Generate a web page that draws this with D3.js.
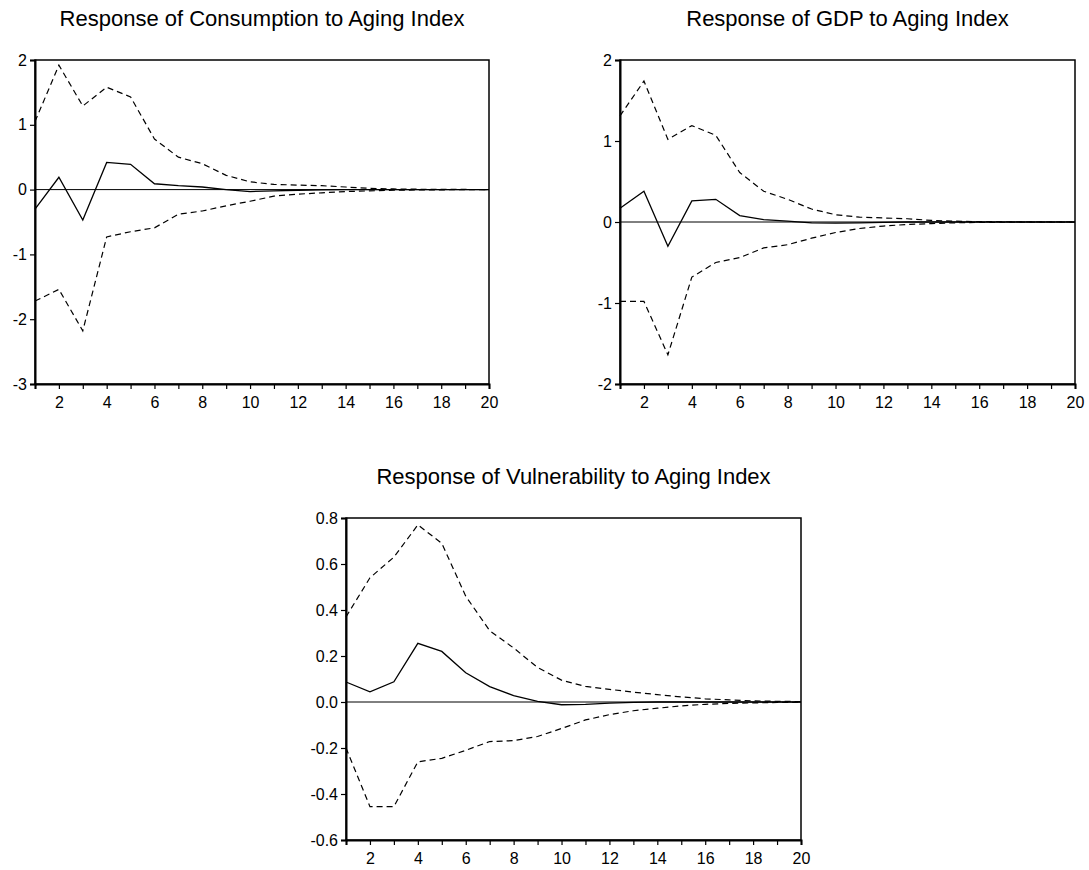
<!DOCTYPE html>
<html>
<head>
<meta charset="utf-8">
<script src="https://cdn.jsdelivr.net/npm/d3@7"></script>
<style>
  body { margin: 0; background: #fff; }
  svg { display: block; font-family: Arial, "Liberation Sans", sans-serif; }
</style>
</head>
<body>
<svg id="chart" width="1089" height="870"></svg>
<script>
// impulse response periods
var periods = [1, 2, 3, 4, 5, 6, 7, 8, 9, 10, 11, 12, 13, 14, 15, 16, 17, 18, 19, 20];
var xTickLabels = [2, 4, 6, 8, 10, 12, 14, 16, 18, 20];

// Response of Consumption to Aging Index
var consResp  = [-0.30, 0.19, -0.47, 0.42, 0.39, 0.09, 0.06, 0.04, 0.00, -0.03, -0.02, -0.01, -0.005, 0, 0, 0, 0, 0, 0, 0];
var consUpper = [1.05, 1.92, 1.29, 1.58, 1.43, 0.78, 0.50, 0.40, 0.22, 0.12, 0.08, 0.07, 0.06, 0.04, 0.02, 0.01, 0.006, 0.003, 0.002, 0.001];
var consLower = [-1.72, -1.54, -2.18, -0.73, -0.65, -0.59, -0.38, -0.33, -0.25, -0.18, -0.10, -0.07, -0.05, -0.03, -0.02, -0.01, -0.006, -0.003, -0.002, -0.001];
var consTicks = [-3, -2, -1, 0, 1, 2];

// Response of GDP to Aging Index
var gdpResp  = [0.17, 0.38, -0.30, 0.26, 0.28, 0.08, 0.03, 0.01, -0.01, -0.015, -0.01, -0.005, 0, 0, 0, 0, 0, 0, 0, 0];
var gdpUpper = [1.31, 1.74, 1.02, 1.19, 1.07, 0.61, 0.38, 0.28, 0.16, 0.09, 0.06, 0.05, 0.04, 0.02, 0.01, 0.005, 0.003, 0.002, 0.001, 0.001];
var gdpLower = [-0.98, -0.98, -1.64, -0.68, -0.50, -0.44, -0.32, -0.28, -0.20, -0.13, -0.08, -0.05, -0.03, -0.02, -0.01, -0.005, -0.003, -0.002, -0.001, -0.001];
var gdpTicks = [-2, -1, 0, 1, 2];

// Response of Vulnerability to Aging Index
var vulnResp  = [0.087, 0.044, 0.088, 0.255, 0.22, 0.127, 0.067, 0.028, 0.003, -0.012, -0.010, -0.005, -0.002, 0, 0, 0, 0, 0, 0, 0];
var vulnUpper = [0.37, 0.54, 0.63, 0.77, 0.69, 0.46, 0.31, 0.235, 0.15, 0.095, 0.068, 0.055, 0.043, 0.032, 0.022, 0.014, 0.009, 0.005, 0.003, 0.002];
var vulnLower = [-0.20, -0.455, -0.455, -0.26, -0.245, -0.21, -0.172, -0.168, -0.15, -0.115, -0.078, -0.055, -0.038, -0.027, -0.017, -0.010, -0.006, -0.004, -0.002, -0.001];
var vulnTicks = [-0.6, -0.4, -0.2, 0.0, 0.2, 0.4, 0.6, 0.8];

var svg = d3.select("#chart");

function drawPanel(p) {
  var x = d3.scaleLinear().domain([1, 20]).range([p.left, p.right]);
  var y = d3.scaleLinear().domain([p.ticks[0], p.ticks[p.ticks.length - 1]]).range([p.bottom, p.top]);
  var g = svg.append("g");

  // title, centred over the plot box
  g.append("text")
    .attr("x", (p.left + p.right) / 2)
    .attr("y", p.top - 34)
    .attr("text-anchor", "middle")
    .style("font-size", "22px")
    .text(p.title);

  // zero line
  g.append("line")
    .attr("x1", p.left).attr("x2", p.right)
    .attr("y1", y(0)).attr("y2", y(0))
    .attr("stroke", "#000").attr("stroke-width", 1);

  var line = d3.line()
    .x(function(d, i) { return x(periods[i]); })
    .y(function(d) { return y(d); });

  [p.upper, p.lower].forEach(function(band) {
    g.append("path")
      .attr("d", line(band))
      .attr("fill", "none")
      .attr("stroke", "#000")
      .attr("stroke-width", 1.2)
      .attr("stroke-dasharray", "6,4");
  });

  g.append("path")
    .attr("d", line(p.resp))
    .attr("fill", "none")
    .attr("stroke", "#000")
    .attr("stroke-width", 1.3);

  // frame
  g.append("rect")
    .attr("x", p.left).attr("y", p.top)
    .attr("width", p.right - p.left).attr("height", p.bottom - p.top)
    .attr("fill", "none")
    .attr("stroke", "#000")
    .attr("stroke-width", 1.5);

  var yAxis = g.append("g")
    .attr("transform", "translate(" + p.left + ",0)")
    .call(d3.axisLeft(y).tickValues(p.ticks).tickSize(5).tickPadding(3)
      .tickFormat(function(d) { return p.fmt(d); }));

  var xAxis = g.append("g")
    .attr("transform", "translate(0," + p.bottom + ")")
    .call(d3.axisBottom(x).tickValues(periods).tickSize(5).tickPadding(8)
      .tickFormat(function(d) { return xTickLabels.indexOf(d) >= 0 ? d : ""; }));

  [yAxis, xAxis].forEach(function(ax) {
    ax.select(".domain").attr("stroke-width", 2);
    ax.selectAll(".tick line").attr("stroke-width", 1.2);
    ax.selectAll("text")
      .attr("fill", "#000")
      .style("font-size", "16px")
      .style("font-family", "Arial, 'Liberation Sans', sans-serif");
  });
}

function intFmt(d) { return String(d); }
function decFmt(d) { return d.toFixed(1); }

drawPanel({ title: "Response of Consumption to Aging Index", left: 35, right: 489, top: 60, bottom: 384,
  resp: consResp, upper: consUpper, lower: consLower, ticks: consTicks, fmt: intFmt });
drawPanel({ title: "Response of GDP to Aging Index", left: 620, right: 1075, top: 60, bottom: 384,
  resp: gdpResp, upper: gdpUpper, lower: gdpLower, ticks: gdpTicks, fmt: intFmt });
drawPanel({ title: "Response of Vulnerability to Aging Index", left: 346, right: 801, top: 518, bottom: 840,
  resp: vulnResp, upper: vulnUpper, lower: vulnLower, ticks: vulnTicks, fmt: decFmt });
</script>
</body>
</html>
